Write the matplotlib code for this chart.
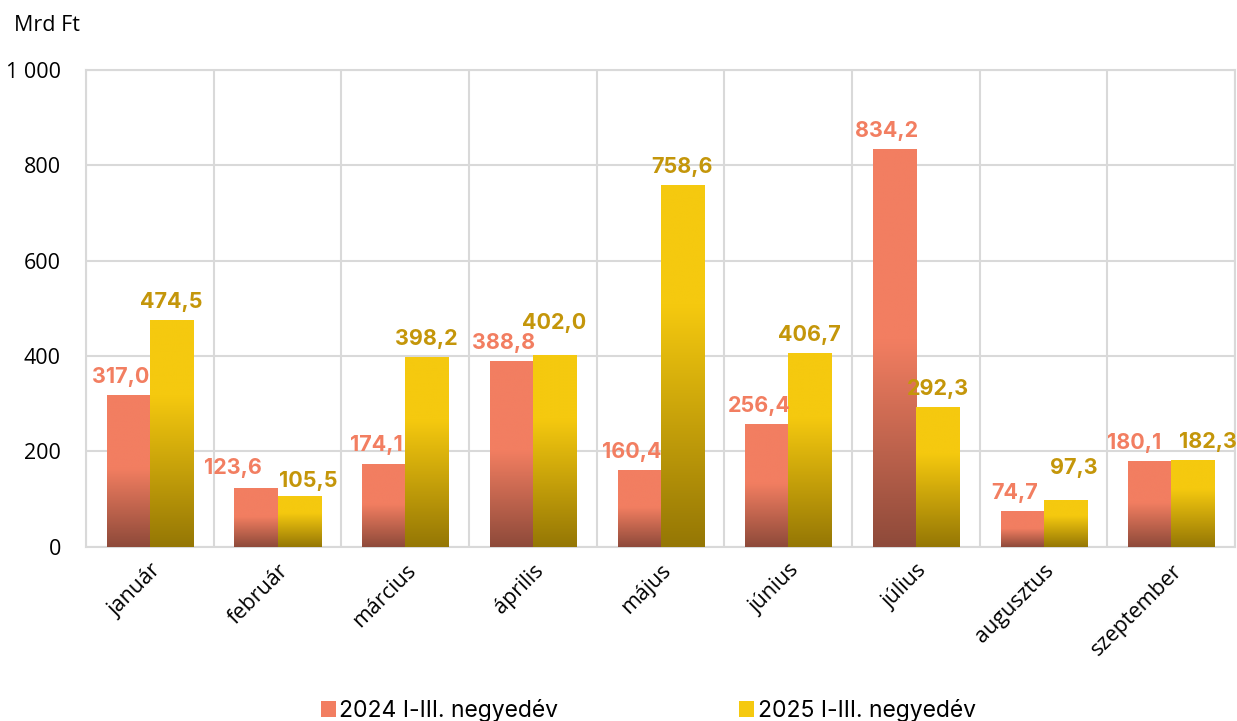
import numpy as np
import matplotlib.pyplot as plt
from matplotlib.colors import LinearSegmentedColormap

# Data
months = ['január', 'február', 'március', 'április', 'május',
          'június', 'július', 'augusztus', 'szeptember']
y2024 = [317.0, 123.6, 174.1, 388.8, 160.4, 256.4, 834.2, 74.7, 180.1]
y2025 = [474.5, 105.5, 398.2, 402.0, 758.6, 406.7, 292.3, 97.3, 182.3]
series_names = ['2024 I-III. negyedév', '2025 I-III. negyedév']

plt.rcParams['font.family'] = ['Inter', 'DejaVu Sans']
tick_font = ['Open Sans', 'DejaVu Sans']

orange_top, orange_bot = '#F27E61', '#8E4A3A'
gold_top, gold_bot = '#F5C90F', '#957705'
orange_lbl, gold_lbl = '#F27E61', '#C4960A'

fig = plt.figure(figsize=(12.37, 7.21), dpi=100)
ax = fig.add_axes([0.0695, 0.242, 0.929, 0.661])

x = np.arange(len(months))
w = 0.337

def gradient_bars(xpos, vals, top, bot, solid_frac, label):
    bars = ax.bar(xpos, vals, w, color=top, label=label, zorder=2)
    # vertical colour ramp: dark at bottom, solid colour on the upper part
    n = 256
    t = np.linspace(0, 1, n)
    ramp = np.clip(t / (1 - solid_frac), 0, 1)
    cmap = LinearSegmentedColormap.from_list('g', [bot, top])
    img = ramp.reshape(-1, 1)
    for b in bars:
        x0 = b.get_x()
        h = b.get_height()
        im = ax.imshow(img, extent=[x0, x0 + b.get_width(), 0, h], origin='lower',
                       aspect='auto', cmap=cmap, vmin=0, vmax=1, zorder=3,
                       interpolation='bilinear')
        im.set_clip_path(b)
    return bars

b1 = gradient_bars(x - w / 2, y2024, orange_top, orange_bot, 0.48, series_names[0])
b2 = gradient_bars(x + w / 2, y2025, gold_top, gold_bot, 0.33, series_names[1])

# value labels (nudged apart where the two labels would collide)
for xi, v1, v2 in zip(x, y2024, y2025):
    dx1, dx2, dy1, dy2 = -0.06, 0.0, 17, 17
    d = abs(v1 - v2)
    if d < 5:
        dx1, dx2 = -0.12, 0.12
    elif d < 40 and v2 < v1:
        dx1, dx2, dy1, dy2 = -0.18, 0.07, 21, 12
    elif d < 40:
        dx2, dy2 = 0.07 if v1 < 100 else 0.0, 47
    ax.text(xi - w / 2 + dx1, v1 + dy1, f'{v1:.1f}'.replace('.', ','), ha='center',
            va='bottom', color=orange_lbl, fontsize=15.5, fontweight='bold', zorder=4)
    ax.text(xi + w / 2 + dx2, v2 + dy2, f'{v2:.1f}'.replace('.', ','), ha='center',
            va='bottom', color=gold_lbl, fontsize=15.5, fontweight='bold', zorder=4)

ax.set_xlim(-0.5, len(months) - 0.5)
ax.set_ylim(0, 1000)
ax.set_yticks([0, 200, 400, 600, 800, 1000])
ax.set_yticklabels(['0', '200', '400', '600', '800', '1 000'], fontsize=15.5,
                   family=tick_font)
ax.set_xticks(x)
ax.set_xticklabels(months, rotation=45, ha='right', rotation_mode='anchor', fontsize=15.5,
                   family=tick_font)
ax.tick_params(axis='y', length=0, pad=18)
ax.tick_params(axis='x', length=0, pad=10)

# grid: horizontal at ticks, vertical at category boundaries
ax.set_xticks(np.arange(-0.5, len(months), 1), minor=True)
ax.tick_params(which='minor', length=0)
ax.grid(axis='y', which='major', color='#D9D9D9', linewidth=1.5, zorder=0)
ax.grid(axis='x', which='minor', color='#D9D9D9', linewidth=1.5, zorder=0)
ax.grid(axis='x', which='major', visible=False)
for s in ax.spines.values():
    s.set_color('#D9D9D9')
    s.set_linewidth(1.5)

fig.text(0.011, 0.965, 'Mrd Ft', fontsize=15.5, ha='left', va='center', family=tick_font)

fig.legend(handles=[b1, b2], labels=series_names, loc='lower center',
           bbox_to_anchor=(0.524, -0.03), ncol=2, frameon=False, fontsize=16.5,
           handlelength=0.65, handleheight=0.65, handletextpad=0.15, columnspacing=7.9)

fig.savefig('out.png', dpi=100)
